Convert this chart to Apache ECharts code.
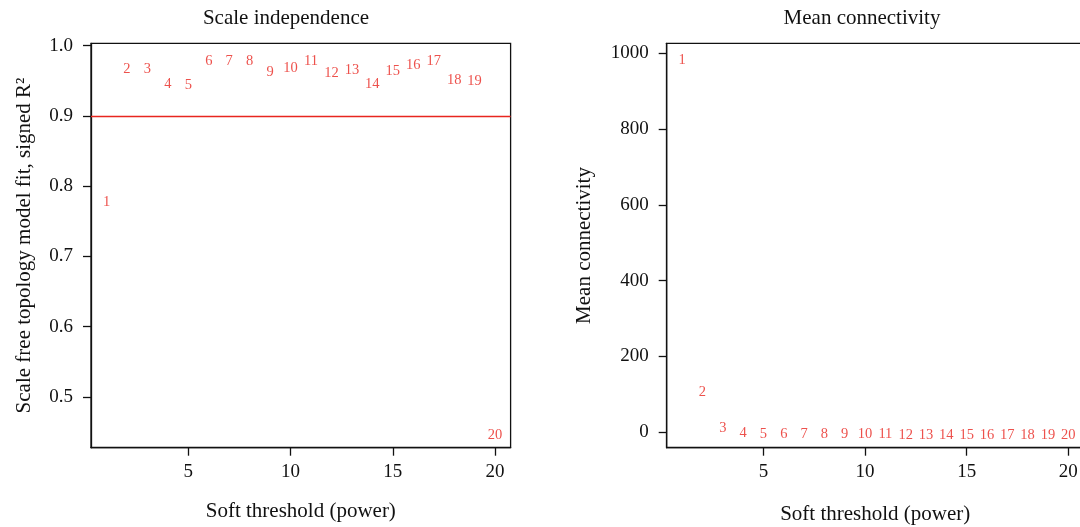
<!DOCTYPE html>
<html>
<head>
<meta charset="utf-8">
<title>Soft threshold selection</title>
<script src="https://cdn.jsdelivr.net/npm/echarts@6/dist/echarts.min.js"></script>
<style>
  html, body { margin: 0; padding: 0; background: #ffffff; }
  #chart { width: 1080px; height: 527px; }
</style>
</head>
<body>
<div id="chart"></div>
<script>
// Candidate soft-thresholding powers
const powers = [1, 2, 3, 4, 5, 6, 7, 8, 9, 10, 11, 12, 13, 14, 15, 16, 17, 18, 19, 20];

// Scale-free topology fit index (signed R^2) for each power
const scaleFitR2 = [0.781, 0.970, 0.970, 0.949, 0.948, 0.982, 0.981, 0.982, 0.966, 0.971,
                    0.982, 0.965, 0.969, 0.949, 0.968, 0.976, 0.981, 0.954, 0.953, 0.450];

// Mean connectivity for each power
const meanConnectivity = [990, 113, 18, 5.5, 3.2, 2.1, 1.5, 1.1, 0.9, 0.7,
                          0.6, 0.5, 0.45, 0.4, 0.35, 0.3, 0.28, 0.25, 0.22, 0.2];

// R^2 cut-off drawn as a reference line
const r2Cutoff = 0.9;

// Tick values
const powerTicks = [5, 10, 15, 20];
const r2Ticks = [0.5, 0.6, 0.7, 0.8, 0.9, 1.0];
const connectivityTicks = [0, 200, 400, 600, 800, 1000];

const FONT = "'Liberation Serif', 'DejaVu Serif', serif";
const RED = '#e8261f';
const INK = '#111111';

const chart = echarts.init(document.getElementById('chart'), null, { renderer: 'canvas' });

function xAxisFor(gridIndex, nameGap) {
  return {
    type: 'value',
    gridIndex: gridIndex,
    min: 0.24,
    max: 20.76,
    name: 'Soft threshold (power)',
    nameLocation: 'middle',
    nameGap: nameGap,
    nameTextStyle: { fontFamily: FONT, fontSize: 21, color: INK },
    axisLine: { show: true, onZero: false, lineStyle: { color: INK, width: 1.3 } },
    axisTick: { show: true, length: 8, inside: false, customValues: powerTicks, lineStyle: { color: INK, width: 1.3 } },
    axisLabel: { show: true, margin: 15, customValues: powerTicks, fontFamily: FONT, fontSize: 19, color: INK },
    splitLine: { show: false }
  };
}

function yAxisFor(gridIndex, opts) {
  return {
    type: 'value',
    gridIndex: gridIndex,
    min: opts.min,
    max: opts.max,
    name: opts.name,
    nameLocation: 'middle',
    nameGap: opts.nameGap,
    nameTextStyle: { fontFamily: FONT, fontSize: 21, color: INK },
    axisLine: { show: true, onZero: false, lineStyle: { color: INK, width: 1.3 } },
    axisTick: { show: true, length: 8, inside: false, customValues: opts.ticks, lineStyle: { color: INK, width: 1.3 } },
    axisLabel: {
      show: true, margin: 18, customValues: opts.ticks,
      fontFamily: FONT, fontSize: 19, color: INK,
      formatter: opts.formatter
    },
    splitLine: { show: false }
  };
}

function labelSeries(index, values, extra) {
  return Object.assign({
    type: 'scatter',
    xAxisIndex: index,
    yAxisIndex: index,
    data: powers.map((p, i) => [p, values[i]]),
    symbolSize: 1,
    itemStyle: { color: 'rgba(0,0,0,0)' },
    silent: true,
    clip: false,
    label: {
      show: true,
      position: 'inside',
      offset: [0, 2.6],
      formatter: (d) => String(d.value[0]),
      fontFamily: FONT,
      fontSize: 14.5,
      color: RED
    }
  }, extra || {});
}

const option = {
  backgroundColor: '#ffffff',
  animation: false,
  title: [
    {
      text: 'Scale independence',
      left: 286, top: 8, padding: 0, textAlign: 'center',
      textStyle: { fontFamily: FONT, fontSize: 21, fontWeight: 'normal', color: INK }
    },
    {
      text: 'Mean connectivity',
      left: 862, top: 8, padding: 0, textAlign: 'center',
      textStyle: { fontFamily: FONT, fontSize: 21, fontWeight: 'normal', color: INK }
    }
  ],
  grid: [
    { left: 91, top: 43.3, width: 419.6, height: 404.4, show: true, borderColor: INK, borderWidth: 1.3, backgroundColor: 'transparent', containLabel: false, outerBoundsMode: 'none' },
    { left: 666.7, top: 43.3, width: 417, height: 404.4, show: true, borderColor: INK, borderWidth: 1.3, backgroundColor: 'transparent', containLabel: false, outerBoundsMode: 'none' }
  ],
  xAxis: [xAxisFor(0, 53), xAxisFor(1, 56)],
  yAxis: [
    yAxisFor(0, {
      min: 0.4278, max: 1.0034, ticks: r2Ticks, nameGap: 56,
      name: 'Scale free topology model fit, signed R\u00B2',
      formatter: (v) => Number(v).toFixed(1)
    }),
    yAxisFor(1, {
      min: -40.6, max: 1026.4, ticks: connectivityTicks, nameGap: 72,
      name: 'Mean connectivity',
      formatter: (v) => String(Math.round(v))
    })
  ],
  series: [
    labelSeries(0, scaleFitR2, {
      markLine: {
        silent: true,
        symbol: ['none', 'none'],
        label: { show: false },
        lineStyle: { color: RED, width: 1.3, type: 'solid' },
        data: [{ yAxis: r2Cutoff }]
      }
    }),
    labelSeries(1, meanConnectivity)
  ]
};

chart.setOption(option);
</script>
</body>
</html>
